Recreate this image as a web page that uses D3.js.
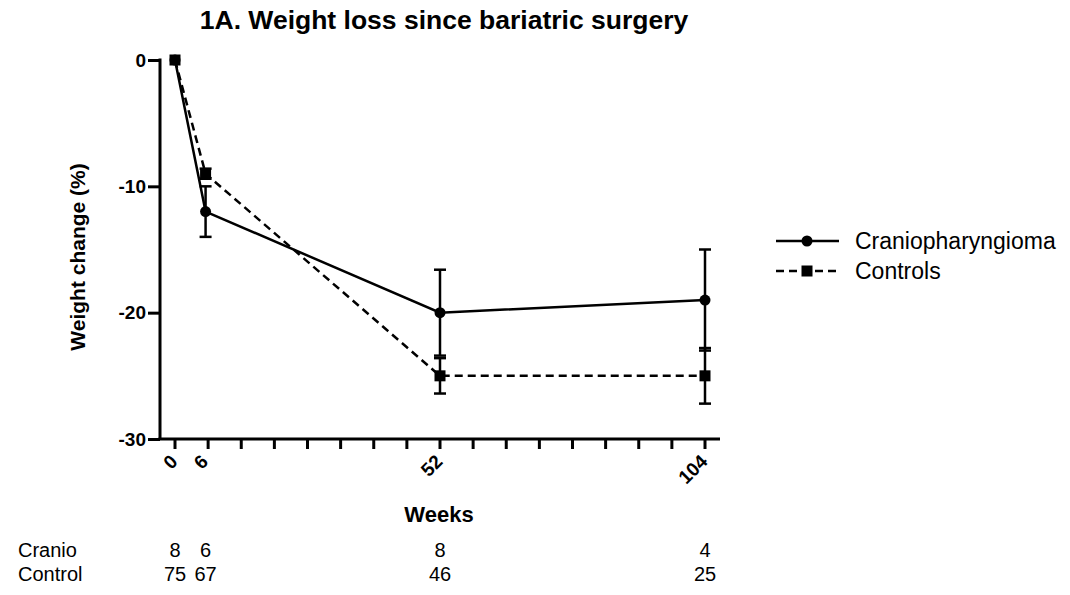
<!DOCTYPE html>
<html><head><meta charset="utf-8">
<script src="https://cdn.jsdelivr.net/npm/d3@7"></script>
<style>body{margin:0;background:#fff}text{font-family:"Liberation Sans",Arial,sans-serif}</style>
</head><body>
<svg id="c" width="1070" height="595"></svg>
<script>
const weeks = [0, 6, 52, 104];
const cranioMean = [0, -12, -20, -19];
const cranioErr = [0, 2, 3.4, 4];
const controlMean = [0, -9, -25, -25];
const controlErr = [0, 0.4, 1.4, 2.2];
const cranioN = [8, 6, 8, 4];
const controlN = [75, 67, 46, 25];
const yTicks = [0, -10, -20, -30];
const xTickLabels = ["0", "6", "52", "104"];
const minorTicks = d3.range(0, 104.01, 6.5);

const FONT = "Liberation Sans, Arial, sans-serif";
const svg = d3.select("#c");
const x = d3.scaleLinear().domain([0, 104]).range([175, 705]);
const y = d3.scaleLinear().domain([0, -30]).range([60, 439]);

svg.append("text").attr("x", 444).attr("y", 29).attr("text-anchor", "middle")
  .attr("font-size", 26.5).attr("font-weight", "bold").text("1A. Weight loss since bariatric surgery");

// Y axis
const ya = svg.append("g").attr("transform", "translate(160,0)")
  .call(d3.axisLeft(y).tickValues(yTicks).tickSize(12).tickPadding(2).tickFormat(d => String(d)));
ya.attr("font-family", FONT).attr("font-size", 19);
ya.select(".domain").attr("stroke-width", 3).attr("d", `M0,${y(0)-1.5}V${y(-30)}`);
ya.selectAll(".tick line").attr("stroke-width", 3);
ya.selectAll(".tick text").attr("font-weight", "bold").attr("fill", "#000");

// X axis
const xa = svg.append("g").attr("transform", "translate(0,439)");
xa.append("line").attr("x1", 158.5).attr("x2", 720).attr("y1", 0).attr("y2", 0).attr("stroke", "#000").attr("stroke-width", 3);
xa.selectAll("line.t").data(minorTicks).join("line").attr("class", "t")
  .attr("x1", d => x(d)).attr("x2", d => x(d)).attr("y1", 0).attr("y2", 10)
  .attr("stroke", "#000").attr("stroke-width", 3);
xa.selectAll("text.tl").data(weeks).join("text").attr("class", "tl")
  .attr("transform", d => `translate(${x(d) - 1},${19}) rotate(-45)`)
  .attr("text-anchor", "end").attr("dy", "0.35em")
  .attr("font-size", 19).attr("font-weight", "bold").text((d, i) => xTickLabels[i]);

svg.append("text").attr("transform", "translate(85,257) rotate(-90)").attr("text-anchor", "middle")
  .attr("font-size", 21).attr("font-weight", "bold").text("Weight change (%)");
svg.append("text").attr("x", 439).attr("y", 522).attr("text-anchor", "middle")
  .attr("font-size", 22).attr("font-weight", "bold").text("Weeks");

function series(mean, err, dash, shape) {
  const pts = weeks.map((w, i) => ({w, m: mean[i], e: err[i]}));
  const g = svg.append("g");
  g.append("path").datum(pts).attr("fill", "none").attr("stroke", "#000").attr("stroke-width", 2.5)
    .attr("stroke-dasharray", dash)
    .attr("d", d3.line().x(d => x(d.w)).y(d => y(d.m)));
  const eb = g.selectAll("g.eb").data(pts.filter(d => d.e > 0)).join("g");
  eb.append("line").attr("x1", d => x(d.w)).attr("x2", d => x(d.w))
    .attr("y1", d => y(d.m - d.e)).attr("y2", d => y(d.m + d.e)).attr("stroke", "#000").attr("stroke-width", 2.5);
  [1, -1].forEach(s => {
    eb.append("line").attr("x1", d => x(d.w) - 6).attr("x2", d => x(d.w) + 6)
      .attr("y1", d => y(d.m + s * d.e)).attr("y2", d => y(d.m + s * d.e))
      .attr("stroke", "#000").attr("stroke-width", 2.5);
  });
  if (shape === "circle") {
    g.selectAll("circle").data(pts).join("circle").attr("cx", d => x(d.w)).attr("cy", d => y(d.m)).attr("r", 5.5);
  } else {
    g.selectAll("rect").data(pts).join("rect").attr("x", d => x(d.w) - 5.5).attr("y", d => y(d.m) - 5.5)
      .attr("width", 11).attr("height", 11);
  }
}
series(controlMean, controlErr, "8,5", "square");
series(cranioMean, cranioErr, null, "circle");

// Legend
const leg = svg.append("g");
leg.append("line").attr("x1", 776).attr("x2", 839).attr("y1", 241).attr("y2", 241).attr("stroke", "#000").attr("stroke-width", 2.5);
leg.append("circle").attr("cx", 807).attr("cy", 241).attr("r", 5.5);
leg.append("text").attr("x", 855).attr("y", 241).attr("dy", "0.35em").attr("font-size", 23).text("Craniopharyngioma");
leg.append("line").attr("x1", 776).attr("x2", 839).attr("y1", 271).attr("y2", 271).attr("stroke", "#000").attr("stroke-width", 2.5).attr("stroke-dasharray", "8,5");
leg.append("rect").attr("x", 801.5).attr("y", 265.5).attr("width", 11).attr("height", 11);
leg.append("text").attr("x", 855).attr("y", 271).attr("dy", "0.35em").attr("font-size", 23).text("Controls");

// N table
const tbl = svg.append("g").attr("font-size", 20);
tbl.append("text").attr("x", 18).attr("y", 557).text("Cranio");
tbl.append("text").attr("x", 18).attr("y", 581).text("Control");
tbl.selectAll("text.cn").data(weeks).join("text").attr("class", "cn").attr("text-anchor", "middle")
  .attr("x", d => x(d)).attr("y", 557).text((d, i) => cranioN[i]);
tbl.selectAll("text.ctn").data(weeks).join("text").attr("class", "ctn").attr("text-anchor", "middle")
  .attr("x", d => x(d)).attr("y", 581).text((d, i) => controlN[i]);
</script>
</body></html>
